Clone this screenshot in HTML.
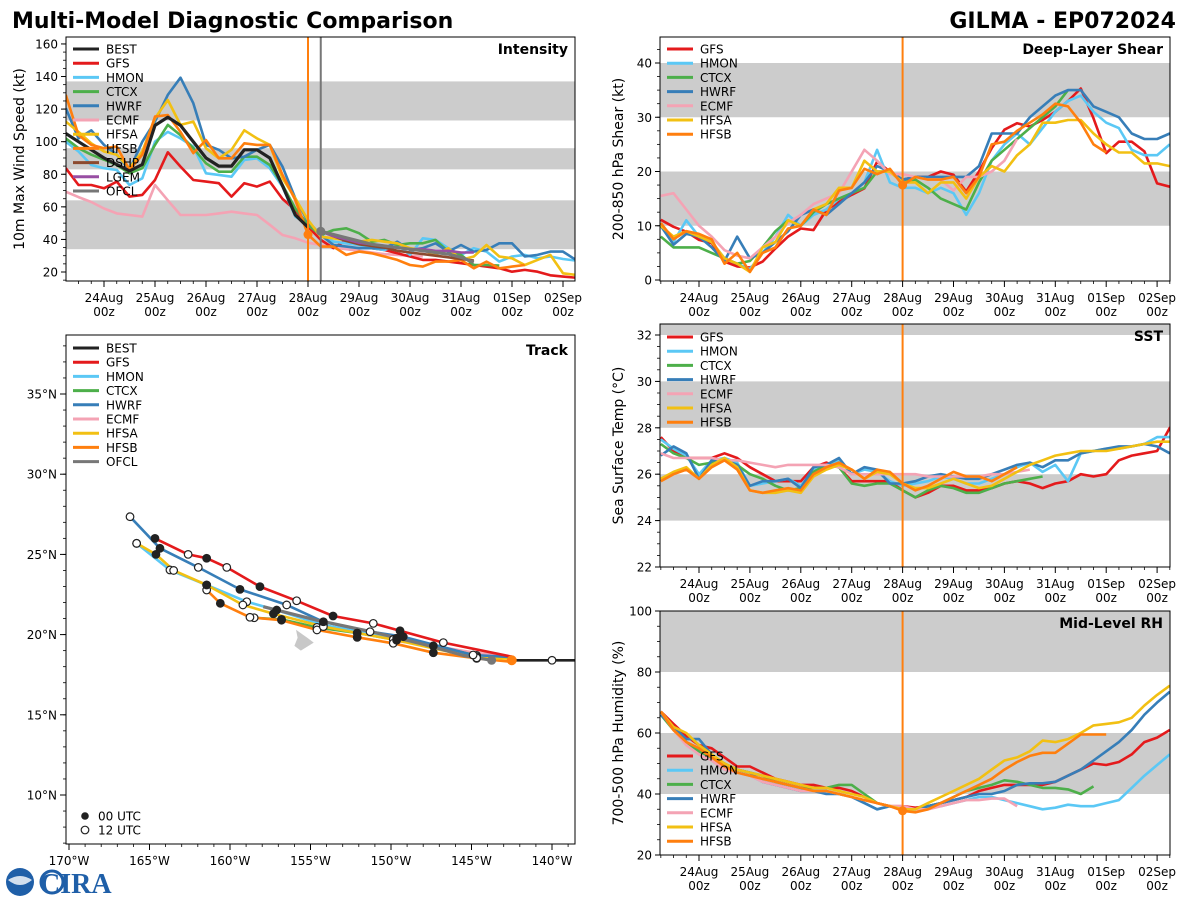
<!DOCTYPE html>
<html><head><meta charset="utf-8">
<style>
html,body{margin:0;padding:0;background:#fff;}
svg{display:block;font-family:"DejaVu Sans","Liberation Sans",sans-serif;}
</style></head>
<body>
<svg id="fig" width="1200" height="900" viewBox="0 0 1200 900" xmlns="http://www.w3.org/2000/svg">
<rect x="0" y="0" width="1200" height="900" fill="#fff"/>
<text x="12" y="28" font-size="22" font-weight="bold">Multi-Model Diagnostic Comparison</text>
<text x="1176" y="28" font-size="22" font-weight="bold" text-anchor="end">GILMA - EP072024</text>
<g>
<circle cx="20" cy="882" r="14" fill="#1f5fa8"/>
<path d="M8 880 Q20 872 32 880 Q20 890 8 880Z" fill="#fff" opacity="0.8"/>
<circle cx="52" cy="882" r="11" fill="#fff" stroke="#1f5fa8" stroke-width="3"/>
<text x="40" y="893" font-size="28" font-weight="bold" fill="#1f5fa8" font-family="Liberation Serif, serif">CIRA</text>
</g>
</svg>
<script>
// ===== data: hours from 24Aug 00z, 6h steps starting at -18 =====
const H0 = -18;
const DH = 6;
const models = ['GFS','HMON','CTCX','HWRF','ECMF','HFSA','HFSB'];
const dayLabels = ['24Aug','25Aug','26Aug','27Aug','28Aug','29Aug','30Aug','31Aug','01Sep','02Sep'];
const intTicks = [20,40,60,80,100,120,140,160];
const shearTicks = [0,10,20,30,40];
const sstTicks = [22,24,26,28,30,32];
const rhTicks = [20,40,60,80,100];

// Intensity (kt)
const intBEST = [105,100,95,90,86,82,86,110,115,110,100,90,85,85,95,95,90,73,55,47.5];
const intGFS = [83.7,73.4,73.4,71.4,75.5,66.3,67.3,76.5,93.5,84.7,76.5,75.5,74.5,66.3,74.5,72.4,75.5,64.9,58,47.9,39.7,34.6,39.7,37.6,34.6,33.5,31.5,29.5,27.4,27.4,26.4,25.4,24.3,23.3,22.3,20.2,21.3,20.2,18,17.2,16.5];
const intHMON = [100,94,85.7,83.7,82.6,73.4,77.5,100,106,102,97,80.6,79.6,78.5,88.8,89.8,83.7,72.4,54,49,42.7,38.6,37.6,36.6,34.6,33.5,36.6,30.5,40.7,39.7,34.6,30.5,34.6,32.5,26.4,29.5,30.5,28.4,29.5,28,27];
const intCTCX = [102,96,92,89,85.7,80.6,83.7,98,110.3,104,96,86.7,81.6,81.6,90.8,90.8,85.7,73.4,59,49,42.7,45.8,46.8,43.8,38.6,39.7,36.6,37.6,37.6,39.7,32.5,30.5,24.3,24.3,23.9];
const intHWRF = [120.5,102,107,98,92,82.6,100,112.3,128.7,139.3,123.6,98,95,89.8,90.8,95,98,84.7,65.2,51,42.7,36.6,35.6,34.6,34.6,34.6,38.6,33.5,34.6,37.6,32.5,36.6,32.5,33.5,37.6,37.6,29.5,30.5,32.5,32.5,27.4];
const intECMF = [69.3,66,63,59,56,55,54,73.4,64,55,55,55,56,57,56,55,49,42.7,40.7,38,36.6,35,34,33,32,31,30.5,30,29.5];
const intHFSA = [112.3,106,99,94,92,83.7,94,114.4,125.6,110.3,112.3,96,89.8,95,107,102,98,77.5,65.2,52,41.7,40.7,39.7,38.6,39.7,38.6,37.6,34.6,33.5,30.5,34.6,27.4,29.5,36.6,29.5,28.4,24.3,27.4,30.5,19.2,18.2];
const intHFSB = [128.7,104,98,96,97,82.6,92,115.4,116.4,106,93,101,89.8,89.8,99,98,98,79.6,64.2,43,35.6,35.6,30.5,32.5,31.5,29.5,27.4,24.3,23.3,26.4,26.4,27.4,22.3,26.4,22.3,23.3,24.3];
const intStartGuidance = 102;
const intDSHP = [45,42,39,37,36,35,33,32,31,30,29,28,27];
const intLGEM = [45,42,40,38,37,36,35,34,34,33,33,32,32];
const intOFCL = [45,43,41,39,37,36,35,34,33,32,31,29,26];

// Shear (kt)
const shrGFS = [11.1,9.8,8.9,7.4,6.8,3.4,2.5,2.3,3.4,5.8,8,9.5,9.2,12.9,14.4,15.7,16.9,21.8,20,18.5,19,19,20,19.4,16.3,20,24.3,27.7,28.9,28.3,29.5,31,33,35.3,29.8,23.4,25.5,25.5,23.7,17.8,17.2];
const shrHMON = [10,7,11,8,7,4,3,2,5,8,12,10,12,13,15,16,18,24,18,17,17,16,17,16,12,16,22,25,27,25,28,31,33,34,31,29,28,24,23,23,25];
const shrCTCX = [8,6,6,6,5,4,3,3.5,6,9,11,10,12.5,14,15,16,17,20,20,18,18.5,17,15,14,13,18,22,24,26,28,30,32,35];
const shrHWRF = [10,6.5,8.5,8,6,3.5,8,4,5,7,9,12,13,12,14,16,18,21,20,18.5,19,19,19,19,19,21,27,27,27,30,32,34,35,35,32,31,30,27,26,26,27];
const shrECMF = [15.5,16,13,10,8,5.5,4.5,4,6,8,10.5,12,14,15,16,20,24,22,19.5,19.5,19,18.5,18.5,16.5,19,19,20,22,26];
const shrHFSA = [10,8,9,8,7,4,3,1.5,6,7,11,10,13,14,17,17,22,20,20,18,18,16,18,18,15,19,21,20,23,25,29,29,29.5,29.5,27,25,23.5,23.5,21.5,21.5,21];
const shrHFSB = [10.5,7.5,9,8.5,7.5,3,5,1.5,5,6,9.5,10,13,12,16.5,17,20.5,19.5,20.5,17.5,19,18.5,18.5,19,16,19,25,25.5,27.5,29,30.5,32.5,32,29,25,23.5];

// SST (C)
const sstGFS = [27.6,27,26.7,26.7,26.7,26.9,26.7,26.3,26,25.7,25.7,25.7,26.3,26.5,26.3,25.7,25.7,25.7,25.7,25.3,25,25.2,25.5,25.5,25.3,25.3,25.4,25.6,25.7,25.6,25.4,25.6,25.7,26,25.9,26,26.6,26.8,26.9,27,28,27];
const sstHMON = [27.5,27.1,26.8,26,26.6,26.7,26.5,25.5,25.6,25.7,25.8,25.5,26.2,26.4,26.6,26,26.2,26.1,25.7,25.5,25.6,25.7,25.9,25.8,25.6,25.6,25.8,26,26.3,26.5,26.1,26.4,25.7,26.9,27,27.1,27.1,27.2,27.3,27.6,27.6];
const sstCTCX = [27.3,26.9,26.7,26.4,26.5,26.6,26.4,26,25.8,25.5,25.3,25.4,26.1,26.4,26.3,25.6,25.5,25.6,25.6,25.3,25,25.3,25.5,25.4,25.2,25.2,25.4,25.6,25.7,25.8,25.9];
const sstHWRF = [26.8,27.2,26.9,25.8,26.6,26.6,26.4,25.5,25.7,25.7,25.8,25.4,26.3,26.4,26.7,26,26.3,26.2,25.6,25.6,25.7,25.9,26,25.9,25.8,25.8,26,26.2,26.4,26.5,26.3,26.6,26.6,26.9,27,27.1,27.2,27.2,27.3,27.2,26.9];
const sstECMF = [26.9,26.7,26.7,26.7,26.7,26.6,26.6,26.5,26.4,26.3,26.4,26.4,26.4,26.4,26.3,26,26,26,26,26,26,25.9,25.9,25.9,25.9,25.9,26,26,26.1,26.2];
const sstHFSA = [25.8,26.1,26.3,25.8,26.4,26.7,26.3,25.3,25.2,25.2,25.3,25.2,25.9,26.2,26.4,26.2,25.8,26.1,26,25.6,25.4,25.4,25.6,25.8,25.6,25.4,25.5,25.8,26.1,26.4,26.6,26.8,26.9,27,27,27,27.1,27.2,27.3,27.4,27.4];
const sstHFSB = [25.7,26,26.2,25.8,26.3,26.6,26.2,25.3,25.2,25.3,25.4,25.3,26,26.3,26.5,26.2,25.8,26.2,26.1,25.6,25.3,25.5,25.8,26.1,25.9,25.9,25.7,26,26.3];

// RH (%)
const rhGFS = [67,63,59,56,55,52,49,49,47,45,44,43,43,42,42,41,39,37,36,36,35.5,36,37,38,39,41,42,43,43,43,43,44,46,48,50,49.5,50.5,53,57,58.5,61];
const rhHMON = [66,62,57,54,51,48,47,46,44,43,42,41,41,41,40,39,37,35,36,35,35,36,36,37,38,39,39,38,37,36,35,35.5,36.5,36,36,37,38,42,46,49.5,53];
const rhCTCX = [66,61,57,54,52,50,48,47,46,44,43,42,42,42,43,43,40,37,36,35,35,36,37,39,41,42,43,44.5,44,43,42,42,41.5,40,42.5];
const rhHWRF = [66,62,58,58,53,49,48,47,44,43,42,41,41,40,40,39,37,35,36,35,35,36,37,38,39,40,40,41,43,43.5,43.5,44,46,48,51,54,57,61,66,70,73.5];
const rhECMF = [67,61,56,53,51,48,47,46,44,43,42,41,41,41,40,39,38,37,36,36,35,35,36,37,38,38,38.5,38.5,36];
const rhHFSA = [67,62,60,56,53,50,48,47,46,45,44,43,42,42,41,40,39,37,36,35,35,37,39,41,43,45,48,51,52,54,57.5,57,58,60,62.5,63,63.5,65,69,72.5,75.5];
const rhHFSB = [67,61,57,55,52,49,47,46,45,44,43,42,41,41,40,39,38,37,36,34.5,34,35,37,39,41,43,45,48,50.5,52.5,53.5,53.5,56.5,59.5,59.5,59.5];

// Track (lon deg E negative, lat deg N), west -> east
const trkBESTlon = [-142.5,-140.0,-138.57];
const trkBESTlat = [18.4,18.4,18.4];
const trkGFSlon = [-164.66,-162.6,-161.45,-160.2,-158.14,-155.86,-153.6,-151.1,-149.44,-146.75,-142.5];
const trkGFSlat = [26.0,25.0,24.76,24.19,22.99,22.11,21.16,20.7,20.24,19.5,18.62];
const trkHWRFlon = [-166.21,-164.35,-161.97,-159.38,-156.48,-154.2,-151.3,-149.24,-144.9,-142.5];
const trkHWRFlat = [27.35,25.38,24.19,22.82,21.85,20.8,20.18,19.87,18.73,18.6];
const trkHMONlon = [-165.8,-163.73,-161.45,-158.96,-157.1,-154.2,-149.65,-144.68,-142.5];
const trkHMONlat = [25.69,24.03,23.09,22.05,21.53,20.6,19.77,18.62,18.6];
const trkHFSAlon = [-165.8,-164.6,-163.5,-161.45,-159.2,-157.3,-154.2,-149.65,-144.68,-142.5];
const trkHFSAlat = [25.69,25.0,24.0,23.09,21.85,21.3,20.5,19.65,18.55,18.5];
const trkHFSBlon = [-161.45,-160.6,-158.76,-156.8,-154.6,-152.1,-149.86,-147.37,-144.68,-142.5];
const trkHFSBlat = [22.78,21.95,21.08,20.9,20.29,19.83,19.46,18.87,18.52,18.3];
const trkCTCXlon = [-158.5,-156.8,-154.6,-152.1,-149.86,-147.37,-144.68,-142.5];
const trkCTCXlat = [21.05,20.95,20.45,20.1,19.7,19.3,18.7,18.5];
const trkECMFlon = [-149.7,-147.4,-145,-142.5];
const trkECMFlat = [19.6,19.3,18.9,18.6];
const trkOFCLlon = [-157.93,-154.6,-151.3,-148,-145.5,-143.75];
const trkOFCLlat = [21.74,20.9,20.2,19.4,18.7,18.4];
const lonTicks = [-170,-165,-160,-155,-150,-145,-140];
const latTicks = [10,15,20,25,30,35];

const COLORS = {BEST:'#222222',GFS:'#e41a1c',HMON:'#5bc8f5',CTCX:'#4daf4a',HWRF:'#377eb8',ECMF:'#f4a3b4',HFSA:'#f2c013',HFSB:'#ff7f0e',DSHP:'#8c4a2f',LGEM:'#984ea3',OFCL:'#777777'};

const NS='http://www.w3.org/2000/svg';
const svg=document.getElementById('fig');
function mk(tag, attrs, parent){
  const e=document.createElementNS(NS,tag);
  for(const k in attrs) e.setAttribute(k,attrs[k]);
  (parent||svg).appendChild(e);
  return e;
}
function txt(x,y,s,size,anchor,parent,extra){
  const t=mk('text',Object.assign({x:x,y:y,'font-size':size,'text-anchor':anchor||'start'},extra||{}),parent);
  t.textContent=s;
  return t;
}

function timePanel(p){
  const g=mk('g',{});
  
  
  const xOf=h=>p.x24+h*p.dayW/24;
  const yOf=v=>p.yRef-(v-p.vRef)*p.ppu;
  const cid='clip-'+p.name;
  const cp=mk('clipPath',{id:cid},g);
  mk('rect',{x:p.x0,y:p.y0,width:p.x1-p.x0,height:p.y1-p.y0},cp);
  // bands
  p.bands.forEach(b=>{
    const r=mk('rect',{x:p.x0,y:yOf(b[1]),width:p.x1-p.x0,height:yOf(b[0])-yOf(b[1]),fill:'#cccccc','clip-path':'url(#'+cid+')'},g);
    
    
  });
  // y ticks
  p.yTicks.forEach(v=>{
    const y=yOf(v);
    mk('line',{x1:p.x0-5,x2:p.x0,y1:y,y2:y,stroke:'#000','stroke-width':1},g);
    const t=txt(p.x0-8,y+4.5,String(v),12,'end',g);
    
    
  });
  for(let v=p.minorStart; v<=p.minorEnd; v+=p.minorStep){
    const y=yOf(v); if(y<p.y0||y>p.y1) continue;
    mk('line',{x1:p.x0-3,x2:p.x0,y1:y,y2:y,stroke:'#000','stroke-width':0.8},g);
  }
  // x ticks
  for(let h=-18; h<=222; h+=6){
    const x=xOf(h); if(x<p.x0||x>p.x1) continue;
    const major=(h%24===0);
    mk('line',{x1:x,x2:x,y1:p.y1,y2:p.y1+(major?6:3),stroke:'#000','stroke-width':major?1:0.8},g);
  }
  dayLabels.forEach((d,i)=>{
    const x=xOf(i*24);
    const t1=txt(x,p.y1+21,d,12,'middle',g);
    
    
    txt(x,p.y1+35,'00z',12,'middle',g);
  });
  // series
  const sg=mk('g',{'clip-path':'url(#'+cid+')'},g);
  p.series.forEach(s=>{
    const pts=s.vals.map((v,i)=>xOf(s.start+i*DH).toFixed(1)+','+yOf(v).toFixed(1)).join(' ');
    const pl=mk('polyline',{points:pts,fill:'none',stroke:COLORS[s.key],'stroke-width':s.w||2.6,'stroke-linejoin':'round'},sg);
    
    
  });
  // vertical lines
  p.vlines.forEach(v=>{
    const l=mk('line',{x1:xOf(v.h),x2:xOf(v.h),y1:p.y0,y2:p.y1,stroke:v.c,'stroke-width':2},g);
    
    
  });
  p.dots.forEach(d=>{
    mk('circle',{cx:xOf(d.h),cy:yOf(d.v),r:4.5,fill:d.c},g);
  });
  // frame
  const fr=mk('rect',{x:p.x0,y:p.y0,width:p.x1-p.x0,height:p.y1-p.y0,fill:'none',stroke:'#000','stroke-width':1},g);
  
  
  // title
  const tt=txt(p.x1-7,p.y0+17,p.title,14,'end',g,{'font-weight':'bold'});
  
  
  // y label
  const cy=(p.y0+p.y1)/2;
  const yl=txt(p.ylx,cy,p.ylabel,14,'middle',g,{transform:'rotate(-90 '+p.ylx+' '+cy+')'});
  
  
  // legend
  p.legend.forEach((k,i)=>{
    const y=p.legY+i*14.2;
    const lg=mk('g',{},g);
    
    
    mk('line',{x1:p.x0+7,x2:p.x0+33,y1:y,y2:y,stroke:COLORS[k],'stroke-width':3},lg);
    txt(p.x0+40,y+4.5,k,12,'start',lg);
  });
}

const mset=(prefix)=>models.map(k=>({key:k,vals:eval(prefix+k),start:H0}));

timePanel({name:'intensity-panel',title:'Intensity',ylabel:'10m Max Wind Speed (kt)',ylx:24,
  x0:66,x1:575,y0:37,y1:281,x24:104,dayW:51,yRef:272,vRef:20,ppu:1.629,
  bands:[[34,64],[83,96],[113,137]],yTicks:intTicks,minorStart:15,minorEnd:165,minorStep:5,
  series:[{key:'ECMF',vals:intECMF,start:H0}].concat(
    ['GFS','HMON','CTCX','HWRF','HFSA','HFSB'].map(k=>({key:k,vals:eval('int'+k),start:H0})),
    [{key:'DSHP',vals:intDSHP,start:intStartGuidance},{key:'LGEM',vals:intLGEM,start:intStartGuidance},{key:'OFCL',vals:intOFCL,start:intStartGuidance,w:3.2},{key:'BEST',vals:intBEST,start:H0,w:3.2}]),
  vlines:[{h:96,c:'#ff7f0e'},{h:102,c:'#777777'}],dots:[{h:96,v:43,c:'#ff7f0e'},{h:102,v:45,c:'#777777'}],
  legend:['BEST','GFS','HMON','CTCX','HWRF','ECMF','HFSA','HFSB','DSHP','LGEM','OFCL'],legY:49});

timePanel({name:'shear-panel',title:'Deep-Layer Shear',ylabel:'200-850 hPa Shear (kt)',ylx:623,
  x0:660,x1:1170,y0:37,y1:281,x24:699,dayW:50.9,yRef:280,vRef:0,ppu:5.425,
  bands:[[10,20],[30,40]],yTicks:shearTicks,minorStart:0,minorEnd:45,minorStep:2.5,
  series:mset('shr'),vlines:[{h:96,c:'#ff7f0e'}],dots:[{h:96,v:17.5,c:'#ff7f0e'}],
  legend:models,legY:49});

timePanel({name:'sst-panel',title:'SST',ylabel:'Sea Surface Temp (°C)',ylx:623,
  x0:660,x1:1170,y0:324,y1:567,x24:699,dayW:50.9,yRef:567,vRef:22,ppu:23.2,
  bands:[[24,26],[28,30],[32,33]],yTicks:sstTicks,minorStart:22,minorEnd:32.5,minorStep:0.5,
  series:mset('sst'),vlines:[{h:96,c:'#ff7f0e'}],dots:[],
  legend:models,legY:337});

timePanel({name:'rh-panel',title:'Mid-Level RH',ylabel:'700-500 hPa Humidity (%)',ylx:623,
  x0:660,x1:1170,y0:611,y1:855,x24:699,dayW:50.9,yRef:855,vRef:20,ppu:3.05,
  bands:[[40,60],[80,100]],yTicks:rhTicks,minorStart:20,minorEnd:100,minorStep:5,
  series:mset('rh'),vlines:[{h:96,c:'#ff7f0e'}],dots:[{h:96,v:34.5,c:'#ff7f0e'}],
  legend:models,legY:756});

// ===== Track panel =====
(function(){
  const x0=66,x1=575,y0=335,y1=844;
  const xOf=lon=>69+(lon+170)*16.1;
  const yOf=lat=>394+(35-lat)*16.04;
  const g=mk('g',{});
  
  
  const cp=mk('clipPath',{id:'clip-track'},g);
  mk('rect',{x:x0,y:y0,width:x1-x0,height:y1-y0},cp);
  lonTicks.forEach(l=>{
    const x=xOf(l);
    mk('line',{x1:x,x2:x,y1:y1,y2:y1+6,stroke:'#000'},g);
    const t=txt(x,y1+21,Math.abs(l)+'°W',12,'middle',g);
    
    
  });
  for(let l=-170;l<=-139;l++){const x=xOf(l); if(x>=x0&&x<=x1) mk('line',{x1:x,x2:x,y1:y1,y2:y1+3,stroke:'#000','stroke-width':0.8},g);}
  latTicks.forEach(l=>{
    const y=yOf(l);
    mk('line',{x1:x0-6,x2:x0,y1:y,y2:y,stroke:'#000'},g);
    const t=txt(x0-9,y+4.5,l+'°N',12,'end',g);
    
    
  });
  for(let l=7;l<=38;l++){const y=yOf(l); if(y>=y0&&y<=y1) mk('line',{x1:x0-3,x2:x0,y1:y,y2:y,stroke:'#000','stroke-width':0.8},g);}
  const cg=mk('g',{'clip-path':'url(#clip-track)'},g);
  const isl=mk('path',{d:'M'+xOf(-155.9)+' '+yOf(20.3)+' L'+xOf(-155.2)+' '+yOf(19.8)+' L'+xOf(-154.8)+' '+yOf(19.5)+' L'+xOf(-155.6)+' '+yOf(19.0)+' L'+xOf(-156)+' '+yOf(19.3)+' L'+xOf(-155.8)+' '+yOf(19.8)+' Z',fill:'#c8c8c8'},cg);
  
  
  const tracks=[['ECMF',trkECMFlon,trkECMFlat,false],['CTCX',trkCTCXlon,trkCTCXlat,true],['HMON',trkHMONlon,trkHMONlat,true],['HFSB',trkHFSBlon,trkHFSBlat,true],['HFSA',trkHFSAlon,trkHFSAlat,true],['HWRF',trkHWRFlon,trkHWRFlat,true],['GFS',trkGFSlon,trkGFSlat,true],['OFCL',trkOFCLlon,trkOFCLlat,false],['BEST',trkBESTlon,trkBESTlat,false]];
  tracks.forEach(t=>{
    const pts=t[1].map((lo,i)=>xOf(lo).toFixed(1)+','+yOf(t[2][i]).toFixed(1)).join(' ');
    const pl=mk('polyline',{points:pts,fill:'none',stroke:COLORS[t[0]],'stroke-width':t[0]==='OFCL'?3.2:2.6,'stroke-linejoin':'round'},cg);
    
    
  });
  tracks.forEach(t=>{
    if(!t[3]) return;
    const n=t[1].length;
    for(let i=0;i<n-1;i++){
      const filled=((n-1-i)%2===0);
      const c=mk('circle',{cx:xOf(t[1][i]),cy:yOf(t[2][i]),r:3.8,fill:filled?'#222':'#fff',stroke:'#222','stroke-width':1.2},cg);
      
      
    }
  });
  mk('circle',{cx:xOf(-140.0),cy:yOf(18.4),r:3.8,fill:'#fff',stroke:'#222','stroke-width':1.2},cg);
  mk('circle',{cx:xOf(-143.75),cy:yOf(18.4),r:4.5,fill:'#777'},cg);
  mk('circle',{cx:xOf(-142.5),cy:yOf(18.4),r:5,fill:'#ff7f0e'},cg);
  mk('rect',{x:x0,y:y0,width:x1-x0,height:y1-y0,fill:'none',stroke:'#000'},g);
  const tt=txt(x1-7,y0+20,'Track',14,'end',g,{'font-weight':'bold'});
  
  
  ['BEST','GFS','HMON','CTCX','HWRF','ECMF','HFSA','HFSB','OFCL'].forEach((k,i)=>{
    const y=348+i*14.2;
    const lg=mk('g',{},g);
    
    
    mk('line',{x1:x0+7,x2:x0+33,y1:y,y2:y,stroke:COLORS[k],'stroke-width':3},lg);
    txt(x0+40,y+4.5,k,12,'start',lg);
  });
  const l1=mk('g',{},g);
  
  
  mk('circle',{cx:85,cy:816,r:3.8,fill:'#222'},l1);
  txt(98,820.5,'00 UTC',12,'start',l1);
  const l2=mk('g',{},g);
  
  
  mk('circle',{cx:85,cy:830,r:3.8,fill:'#fff',stroke:'#222','stroke-width':1.2},l2);
  txt(98,834.5,'12 UTC',12,'start',l2);
})();
</script>
</body></html>
